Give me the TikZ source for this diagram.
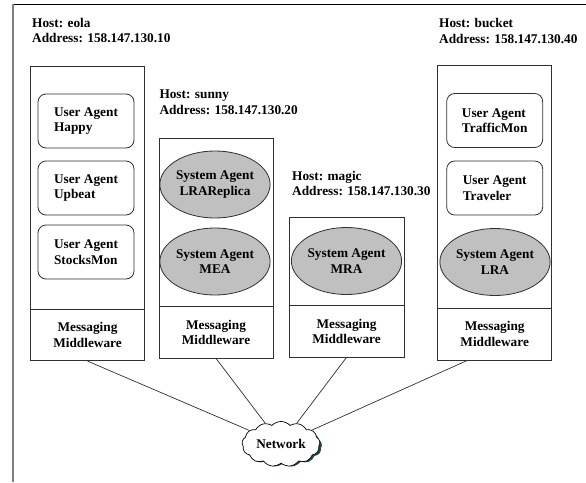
\documentclass[tikz,border=0pt]{standalone}
\usepackage{fontspec}
\setmainfont{Liberation Serif}
\usetikzlibrary{shapes.geometric,shapes.symbols}
\definecolor{edge}{HTML}{303030}
\definecolor{agentgray}{HTML}{C0C0C0}
\definecolor{shadowteal}{HTML}{1F4A4A}
\begin{document}
\begin{tikzpicture}[x=1pt,y=-1pt,
  every node/.style={font=\fontsize{13.3}{15.5}\selectfont\bfseries, text=black},
  section/.style={draw=edge, line width=0.8pt, rectangle, inner sep=0pt, minimum width=114pt},
  useragent/.style={draw=edge, line width=0.8pt, rectangle, rounded corners=8pt,
    minimum width=96pt, minimum height=54pt, align=left, inner sep=0pt},
  sysagent/.style={draw=edge, line width=0.8pt, ellipse, fill=agentgray,
    minimum width=96pt, minimum height=67pt, align=center, inner sep=0pt},
  hostlabel/.style={anchor=base west, align=left, inner sep=0pt},
  middleware/.style={section, minimum height=52pt, align=center},
  netcloud/.style={cloud, cloud puffs=13, cloud puff arc=95, aspect=1.8, inner sep=0pt,
    minimum width=78pt, minimum height=42pt},
  link/.style={draw=edge, line width=0.7pt}]
\useasboundingbox (0,0) rectangle (586,482);

% window frame edges
\draw[black, line width=1pt] (12,4) -- (586,4);
\draw[gray, line width=2pt] (12.7,4) -- (12.7,482);

% host eola
\node[hostlabel] (eolaLabel) at (32,42.5) {Host: eola\\Address: 158.147.130.10};
\node[section, minimum height=242.3pt] (eolaTop) at (87.5,187.85) {};
\node[middleware, minimum height=51.7pt] (eolaMM) at (87.5,334.85) {Messaging\\Middleware};
\node[useragent] (happy) at (86,121) {User Agent\\Happy};
\node[useragent] (upbeat) at (86,188) {User Agent\\Upbeat};
\node[useragent] (stocks) at (86,252) {User Agent\\StocksMon};

% host sunny
\node[hostlabel] (sunnyLabel) at (159.3,114.3) {Host: sunny\\Address: 158.147.130.20};
\node[section, minimum height=168.7pt] (sunnyTop) at (216,222.35) {};
\node[middleware, minimum height=51.3pt] (sunnyMM) at (216,332.35) {Messaging\\Middleware};
\node[sysagent] (lrareplica) at (215,184.5) {System Agent\\LRAReplica};
\node[sysagent] (mea) at (215,261.5) {System Agent\\MEA};

% host magic
\node[hostlabel] (magicLabel) at (292,195.5) {Host: magic\\Address: 158.147.130.30};
\node[section, minimum width=115pt, minimum height=88.7pt] (magicTop) at (346.5,261.35) {};
\node[middleware, minimum width=115pt, minimum height=51.3pt] (magicMM) at (346.5,331.35) {Messaging\\Middleware};
\node[sysagent] (mra) at (346.5,261) {System Agent\\MRA};

% host bucket
\node[hostlabel] (bucketLabel) at (439,43.3) {Host: bucket\\Address: 158.147.130.40};
\node[section, minimum height=242.3pt] (bucketTop) at (494.7,186.85) {};
\node[middleware, minimum height=52pt] (bucketMM) at (494.7,334) {Messaging\\Middleware};
\node[useragent] (traffic) at (494.7,120.5) {User Agent\\TrafficMon};
\node[useragent] (traveler) at (494.7,188) {User Agent\\Traveler};
\node[sysagent] (lra) at (495,262) {System Agent\\LRA};

% network cloud with its shadow
\node[netcloud, fill=shadowteal] (netShadow) at (283,446) {};
\node[netcloud, draw=black, line width=0.7pt, fill=white] (net) at (281,444) {Network};

% links from each middleware to the network
\draw[link] (eolaMM.south) -- (net);
\draw[link] (sunnyMM.south) -- (net);
\draw[link] (magicMM.south) -- (net);
\draw[link] (bucketMM.224) -- (net);
\end{tikzpicture}
\end{document}
